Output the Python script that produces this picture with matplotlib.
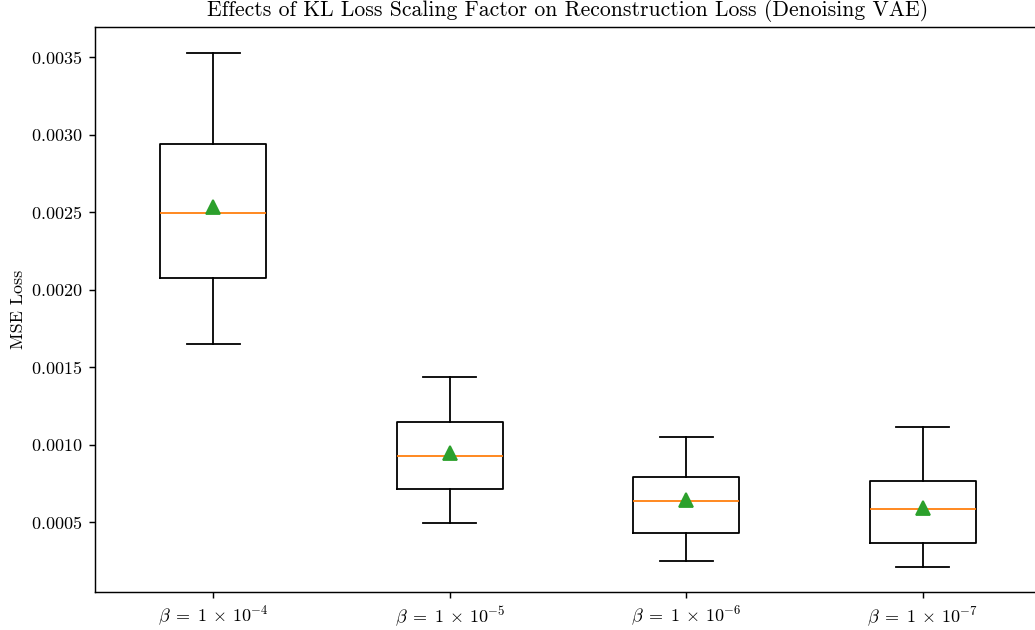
import matplotlib
matplotlib.use("Agg")
import matplotlib.pyplot as plt

plt.rcParams['font.family'] = 'serif'
plt.rcParams['font.serif'] = ['cmr10']
plt.rcParams['mathtext.fontset'] = 'cm'
plt.rcParams['axes.formatter.use_mathtext'] = True

# Box statistics
labels = [r'$\beta \;=\; 1 \,\times\, 10^{-4}$', r'$\beta \;=\; 1 \,\times\, 10^{-5}$',
          r'$\beta \;=\; 1 \,\times\, 10^{-6}$', r'$\beta \;=\; 1 \,\times\, 10^{-7}$']
whisker_low = [0.001649, 0.000492, 0.000250, 0.000212]
q1 = [0.002077, 0.000713, 0.000427, 0.000364]
median = [0.002497, 0.000925, 0.000638, 0.000584]
q3 = [0.002943, 0.001146, 0.000791, 0.000763]
whisker_high = [0.003530, 0.001433, 0.001049, 0.001114]
mean = [0.002534, 0.000944, 0.000642, 0.000590]

stats = []
for i in range(len(labels)):
    stats.append(dict(label=labels[i], whislo=whisker_low[i], q1=q1[i], med=median[i],
                      q3=q3[i], whishi=whisker_high[i], mean=mean[i], fliers=[]))

fig = plt.figure(figsize=(1035 / 130, 630 / 130), dpi=130)
ax = fig.add_axes([95 / 1035, 1 - 592.3 / 630, (1041 - 95) / 1035, (592.3 - 27) / 630])
ax.bxp(stats, showmeans=True,
       meanprops=dict(marker='^', markerfacecolor='tab:green', markeredgecolor='tab:green',
                      markersize=7.5))
ax.set_title('Effects of KL Loss Scaling Factor on Reconstruction Loss (Denoising VAE)')
ax.set_ylabel('MSE Loss', labelpad=2.5)

fig.savefig('out.png', dpi=130)
